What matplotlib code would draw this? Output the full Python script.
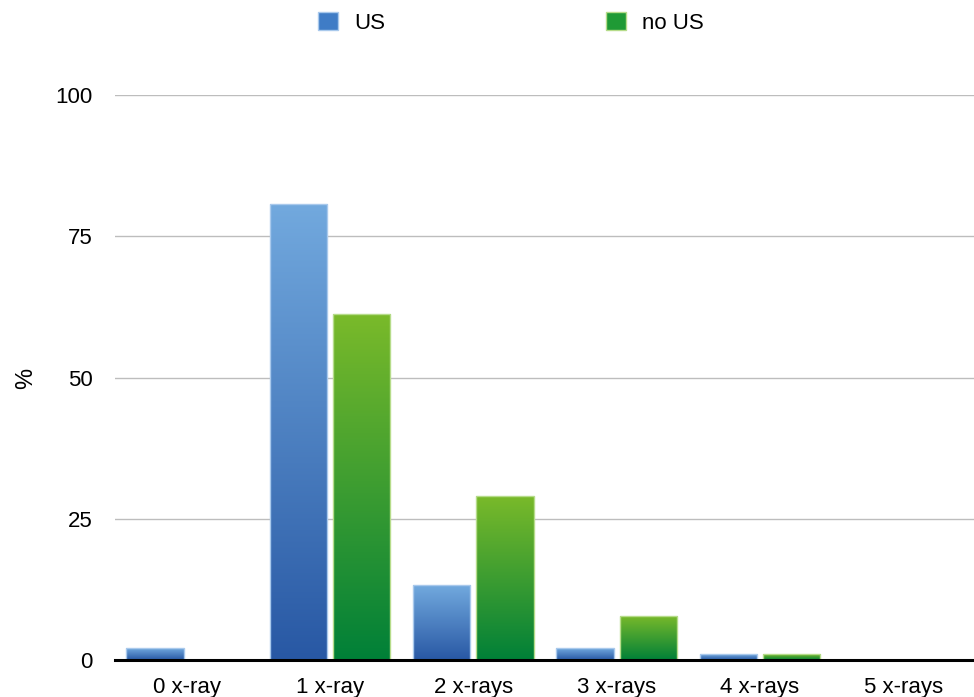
import matplotlib
matplotlib.use("Agg")
import matplotlib.pyplot as plt
import numpy as np
from matplotlib.colors import LinearSegmentedColormap
from matplotlib.patches import Patch

plt.rcParams['font.family'] = ['Liberation Sans', 'DejaVu Sans']

# Datos
categorias = ['0 x-ray', '1 x-ray', '2 x-rays', '3 x-rays', '4 x-rays', '5 x-rays']
us = [2.1, 80.7, 13.2, 2.1, 1.0, 0.0]
no_us = [0.0, 61.2, 29.1, 7.8, 1.0, 0.0]
series = ['US', 'no US']

# Degradados: claro arriba, oscuro abajo
cmap_azul = LinearSegmentedColormap.from_list('azul', ['#2858a4', '#72a9de'])
cmap_verde = LinearSegmentedColormap.from_list('verde', ['#008038', '#7aba2a'])

fig = plt.figure(figsize=(9.74, 6.97), dpi=100)
ax = fig.add_axes([115 / 974, 37 / 697, 860 / 974, 565 / 697])

x = np.arange(len(categorias))
ancho = 0.40
sep = 0.042
grad = np.linspace(0, 1, 256).reshape(-1, 1)

for valores, desp, cmap, borde in [(us, -(ancho + sep) / 2, cmap_azul, '#a9c9ec'),
                                   (no_us, (ancho + sep) / 2, cmap_verde, '#b6dc8a')]:
    barras = ax.bar(x + desp, valores, ancho, color='none', edgecolor='none', zorder=3)
    for b in barras:
        h = b.get_height()
        if h <= 0:
            continue
        x0 = b.get_x()
        im = ax.imshow(grad, cmap=cmap, origin='lower', aspect='auto',
                       extent=(x0, x0 + b.get_width(), 0, h), zorder=3)
        im.set_clip_path(b)
        ax.add_patch(plt.Rectangle((x0, 0), b.get_width(), h, fill=False,
                                   edgecolor=borde, linewidth=1.0, zorder=4))

ax.set_xlim(-0.5, 5.5)
ax.set_ylim(0, 100)
ax.set_yticks([0, 25, 50, 75, 100])
ax.set_xticks(x)
ax.set_xticklabels(categorias)
ax.tick_params(axis='both', length=0, labelsize=16)
ax.tick_params(axis='y', pad=16)
ax.tick_params(axis='x', pad=12)
ax.yaxis.grid(True, color='#bdbdbd', linewidth=1.0)
ax.set_axisbelow(True)
for s in ['top', 'right', 'left']:
    ax.spines[s].set_visible(False)
ax.spines['bottom'].set_linewidth(2.2)
ax.spines['bottom'].set_zorder(5)
fig.text(26 / 974, 1 - 378 / 697, '%', fontsize=17, rotation=90,
         ha='center', va='center')

handles = [Patch(facecolor='#3f7cc6', edgecolor='#a9c9ec'),
           Patch(facecolor='#1f9a35', edgecolor='#b6dc8a')]
fig.legend(handles, series, loc='upper center', bbox_to_anchor=(511 / 974, 1.012),
           ncol=2, frameon=False, fontsize=16, handlelength=0.9, handleheight=0.9,
           columnspacing=9.9, handletextpad=0.75)

fig.savefig('out.png', dpi=100)
